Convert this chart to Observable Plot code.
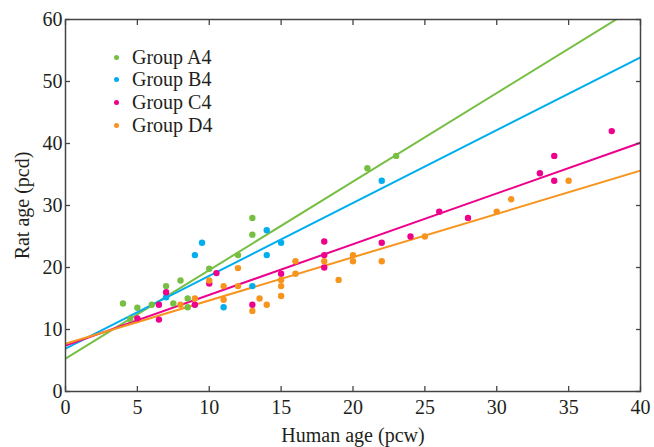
<!DOCTYPE html>
<html>
<head>
<meta charset="utf-8">
<script src="https://cdn.jsdelivr.net/npm/d3@7"></script>
<script src="https://cdn.jsdelivr.net/npm/@observablehq/plot@0.6"></script>
<style>
  html, body { margin: 0; padding: 0; background: white; }
  #wrap { position: relative; width: 654px; height: 447px; font-family: "Liberation Serif", "Times New Roman", serif; }
  #legend { position: absolute; left: 114px; top: 46px; font-size: 20px; color: #231f20; }
  .row { display: flex; align-items: center; height: 22.6px; }
  .sw { width: 5px; height: 5px; border-radius: 50%; margin-right: 13px; }
</style>
</head>
<body>
<div id="wrap"><div id="legend"></div></div>
<script>
const groups = ["Group A4", "Group B4", "Group C4", "Group D4"];
const colors = ["#77bf43", "#00aeef", "#ec008c", "#f7941d"];

// Group A4
const xA = [4, 4.5, 5, 6, 7, 7.5, 8, 8.5, 8.5, 10, 12, 13, 13, 21, 23];
const yA = [14.2, 11.7, 13.5, 14.0, 17.0, 14.2, 17.9, 15.0, 13.6, 19.8, 22.0, 25.3, 28.0, 36.0, 38.0];
// Group B4
const xB = [7, 9, 9.5, 11, 13, 14, 14, 15, 22];
const yB = [15.2, 22.0, 24.0, 13.6, 17.0, 26.0, 22.0, 24.0, 34.0];
// Group C4
const xC = [5, 6.5, 6.5, 7, 9, 10, 10.5, 13, 15, 18, 18, 18, 22, 24, 26, 28, 33, 34, 34, 38];
const yC = [11.8, 14.0, 11.6, 16.0, 14.0, 17.4, 19.1, 14.0, 19.0, 24.2, 22.0, 20.0, 24.0, 25.0, 29.0, 28.0, 35.2, 38.0, 34.0, 42.0];
// Group D4
const xD = [8, 9, 10, 11, 11, 12, 12, 13, 13.5, 14, 15, 15, 15, 16, 16, 18, 19, 20, 20, 22, 25, 30, 31, 35];
const yD = [14.0, 15.0, 17.9, 17.0, 14.8, 19.9, 17.0, 13.0, 15.0, 14.0, 18.0, 17.0, 15.4, 21.0, 19.0, 21.0, 18.0, 22.0, 21.0, 21.0, 25.0, 29.0, 31.0, 34.0];

// fitted lines
const intercepts = [5.3, 6.9, 7.4, 7.7];
const slopes = [1.428, 1.175, 0.818, 0.698];

const xTicks = [0, 5, 10, 15, 20, 25, 30, 35, 40];
const yTicks = [0, 10, 20, 30, 40, 50, 60];

const xs = [xA, xB, xC, xD];
const ys = [yA, yB, yC, yD];
const points = groups.flatMap((g, i) => xs[i].map((x, j) => ({group: g, x, y: ys[i][j]})));
const fits = groups.flatMap((g, i) => [0, 40].map(x => ({group: g, x, y: intercepts[i] + slopes[i] * x})));

const axisStroke = "#444";
const chart = Plot.plot({
  width: 654,
  height: 447,
  marginLeft: 65,
  marginRight: 14,
  marginTop: 19,
  marginBottom: 56,
  style: {fontFamily: "'Liberation Serif', 'Times New Roman', serif", fontSize: "20px", color: "#231f20", background: "white"},
  x: {domain: [0, 40]},
  y: {domain: [0, 60]},
  color: {domain: groups, range: colors},
  marks: [
    Plot.line(fits, {x: "x", y: "y", z: "group", stroke: "group", strokeWidth: 2, clip: true}),
    Plot.dot(points, {x: "x", y: "y", fill: "group", r: 3.2}),
    Plot.axisX({anchor: "bottom", ticks: xTicks, tickSize: -5, tickPadding: 13, stroke: axisStroke, strokeWidth: 1.3,
      label: "Human age (pcw)", labelAnchor: "center", labelOffset: 50, labelArrow: "none"}),
    Plot.axisX({anchor: "top", ticks: xTicks, tickSize: -5, tickFormat: () => "", label: null, stroke: axisStroke, strokeWidth: 1.3}),
    Plot.axisY({anchor: "left", ticks: yTicks, tickSize: -5, tickPadding: 8, stroke: axisStroke, strokeWidth: 1.3,
      label: "Rat age (pcd)", labelAnchor: "center", labelOffset: 51, labelArrow: "none"}),
    Plot.axisY({anchor: "right", ticks: yTicks, tickSize: -5, tickFormat: () => "", label: null, stroke: axisStroke, strokeWidth: 1.3}),
    Plot.frame({stroke: axisStroke, strokeWidth: 1.5})
  ]
});
const wrap = document.getElementById("wrap");
wrap.insertBefore(chart, wrap.firstChild);

const legend = document.getElementById("legend");
groups.forEach((g, i) => {
  const row = document.createElement("div");
  row.className = "row";
  const sw = document.createElement("span");
  sw.className = "sw";
  sw.style.background = colors[i];
  const t = document.createElement("span");
  t.textContent = g;
  row.appendChild(sw);
  row.appendChild(t);
  legend.appendChild(row);
});
</script>
</body>
</html>
